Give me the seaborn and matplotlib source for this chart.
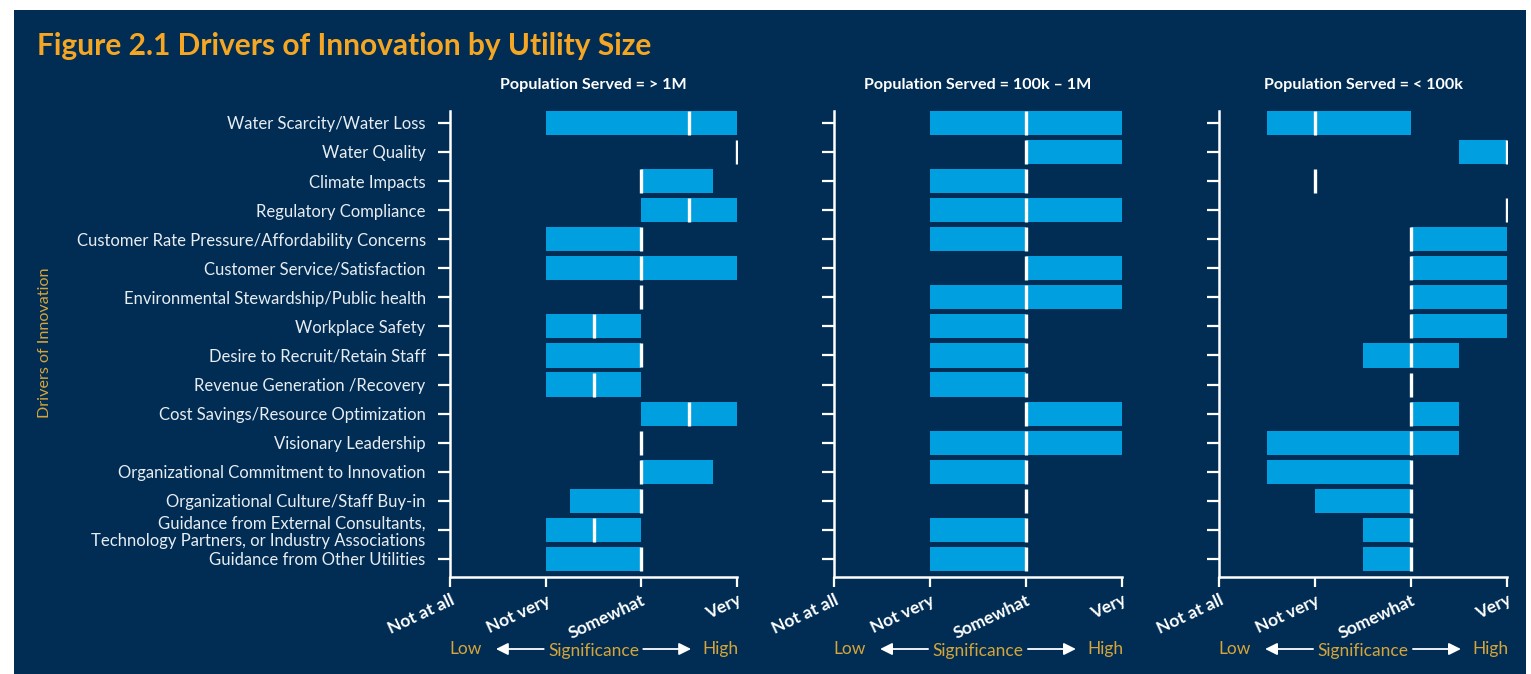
import numpy as np
import pandas as pd
import matplotlib
matplotlib.use("Agg")
import matplotlib.pyplot as plt
import matplotlib.transforms as mtransforms
from matplotlib.patches import Rectangle
import seaborn as sns

# ---------------- data ----------------
drivers = [
    "Water Scarcity/Water Loss",
    "Water Quality",
    "Climate Impacts",
    "Regulatory Compliance",
    "Customer Rate Pressure/Affordability Concerns",
    "Customer Service/Satisfaction",
    "Environmental Stewardship/Public health",
    "Workplace Safety",
    "Desire to Recruit/Retain Staff",
    "Revenue Generation /Recovery",
    "Cost Savings/Resource Optimization",
    "Visionary Leadership",
    "Organizational Commitment to Innovation",
    "Organizational Culture/Staff Buy-in",
    "Guidance from External Consultants,\nTechnology Partners, or Industry Associations",
    "Guidance from Other Utilities",
]
panel_titles = ["Population Served = > 1M", "Population Served = 100k \u2013 1M",
                "Population Served = < 100k"]
scale_labels = ["Not at all", "Not very", "Somewhat", "Very"]

low_large = [1, 3, 2, 2, 1, 1, 2, 1, 1, 1, 2, 2, 2, 1.25, 1, 1]
med_large = [2.5, 3, 2, 2.5, 2, 2, 2, 1.5, 2, 1.5, 2.5, 2, 2, 2, 1.5, 2]
high_large = [3, 3, 2.75, 3, 2, 3, 2, 2, 2, 2, 3, 2, 2.75, 2, 2, 2]

low_mid = [1, 2, 1, 1, 1, 2, 1, 1, 1, 1, 2, 1, 1, 2, 1, 1]
med_mid = [2, 2, 2, 2, 2, 2, 2, 2, 2, 2, 2, 2, 2, 2, 2, 2]
high_mid = [3, 3, 2, 3, 2, 3, 3, 2, 2, 2, 3, 3, 2, 2, 2, 2]

low_small = [0.5, 2.5, 1, 3, 2, 2, 2, 2, 1.5, 2, 2, 0.5, 0.5, 1, 1.5, 1.5]
med_small = [1, 3, 1, 3, 2, 2, 2, 2, 2, 2, 2, 2, 2, 2, 2, 2]
high_small = [2, 3, 1, 3, 3, 3, 3, 3, 2.5, 2, 2.5, 2.5, 2, 2, 2, 2]

panels = [
    (low_large, med_large, high_large),
    (low_mid, med_mid, high_mid),
    (low_small, med_small, high_small),
]

# ---------------- style ----------------
NAVY = "#012D55"
BAR = "#009FE0"
TITLE_GOLD = "#F5A623"
GOLD = "#D6A53A"
WHITE = "#FFFFFF"
LABEL = "#E8EDF2"

sns.set_style("white")
plt.rcParams["font.family"] = ["Lato", "DejaVu Sans"]

W, H = 1531, 674
fig = plt.figure(figsize=(W / 100, H / 100), dpi=100, facecolor="white")
fig.patches.append(Rectangle((14 / W, 0), (1526 - 14) / W, 1 - 10 / H,
                             transform=fig.transFigure, facecolor=NAVY,
                             edgecolor="none", zorder=-10))

ax_lefts = [450, 834, 1219]
ax_widths = [287, 288, 288]
top_px, bot_px = 111, 577

for i, (lo, me, hi) in enumerate(panels):
    ax = fig.add_axes([ax_lefts[i] / W, (H - bot_px) / H, ax_widths[i] / W,
                       (bot_px - top_px) / H])
    ax.set_facecolor("none")
    df = pd.DataFrame({"driver": drivers, "low": lo, "med": me, "high": hi})
    df["span"] = df["high"] - df["low"]
    sns.barplot(data=df, x="span", y="driver", order=drivers, orient="h",
                color=BAR, saturation=1, width=0.83, errorbar=None,
                linewidth=0, edgecolor="none", ax=ax)
    # position each range bar at its low value
    for patch, start in zip(ax.patches, df["low"]):
        patch.set_x(start)
    sns.scatterplot(data=df, x="med", y="driver", marker="|", s=300,
                    color=WHITE, linewidth=2.4, ax=ax, zorder=4, legend=False)

    ax.set_xlim(0, 3)
    ax.set_ylim(15.62, -0.41)
    ax.set_xticks([0, 1, 2, 3])
    ax.set_xticklabels(scale_labels, rotation=25, ha="right", va="top",
                       rotation_mode="anchor", fontsize=12.5, fontweight="bold",
                       color=WHITE)
    ax.set_yticks(range(len(drivers)))
    if i == 0:
        ax.set_yticklabels(drivers, fontsize=12, color=LABEL, linespacing=1.15)
    else:
        ax.set_yticklabels([])
    ax.set_xlabel("")
    ax.set_ylabel("")
    for s in ["top", "right"]:
        ax.spines[s].set_visible(False)
    for s in ["left", "bottom"]:
        ax.spines[s].set_color(WHITE)
        ax.spines[s].set_linewidth(1.8)
    ax.tick_params(axis="y", left=True, direction="out", length=8.5, width=1.6,
                   color=WHITE, pad=9)
    ax.tick_params(axis="x", bottom=True, direction="out", length=7, width=1.6,
                   color=WHITE, pad=4)

    # panel title
    cx = (ax_lefts[i] + ax_widths[i] / 2) / W
    fig.text(cx, 1 - 85 / H, panel_titles[i], ha="center", va="center",
             fontsize=11.6, fontweight="bold", color=WHITE)

    # significance legend below the axis
    tr = mtransforms.blended_transform_factory(ax.transData, fig.transFigure)
    yl = 1 - 649 / H
    ax.text(0.16, yl, "Low", transform=tr, ha="center", va="center",
            fontsize=12.5, color=GOLD)
    ax.text(2.83, yl, "High", transform=tr, ha="center", va="center",
            fontsize=12.5, color=GOLD)
    ax.text(1.5, yl - 0.003, "Significance", transform=tr, ha="center",
            va="center", fontsize=12.5, color=GOLD)
    ax.annotate("", xy=(0.48, yl), xytext=(0.98, yl), xycoords=tr, textcoords=tr,
                arrowprops=dict(arrowstyle="-|>", color=WHITE, lw=1.3,
                                mutation_scale=18, shrinkA=0, shrinkB=0),
                annotation_clip=False)
    ax.annotate("", xy=(2.52, yl), xytext=(2.02, yl), xycoords=tr, textcoords=tr,
                arrowprops=dict(arrowstyle="-|>", color=WHITE, lw=1.3,
                                mutation_scale=18, shrinkA=0, shrinkB=0),
                annotation_clip=False)

fig.text(37 / W, 1 - 46 / H, "Figure 2.1 Drivers of Innovation by Utility Size",
         ha="left", va="center", fontsize=21.5, fontweight="bold",
         color=TITLE_GOLD)
fig.text(45 / W, 1 - 343 / H, "Drivers of Innovation", rotation=90,
         ha="center", va="center", fontsize=11.6, color=GOLD)

fig.savefig("out.png", dpi=100, facecolor=fig.get_facecolor())
